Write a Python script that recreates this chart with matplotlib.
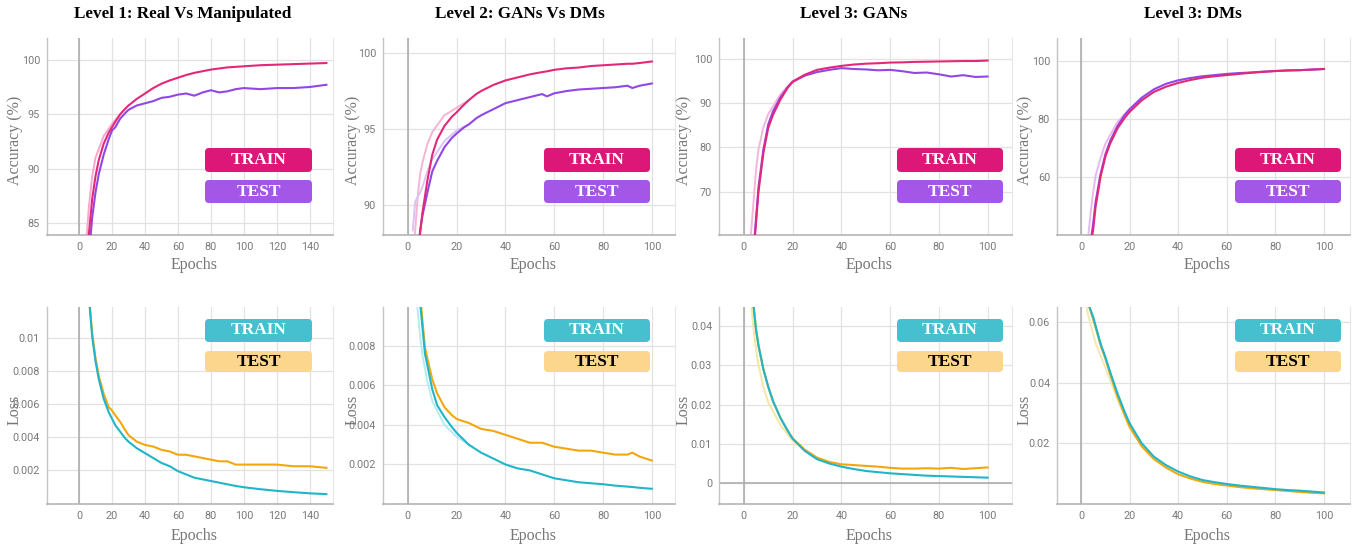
import matplotlib
matplotlib.use("Agg")
import matplotlib.pyplot as plt
from matplotlib.patches import FancyBboxPatch
from matplotlib.transforms import IdentityTransform

W, H = 1354, 548

l1_ep = [4, 6, 8, 10, 12, 15, 18, 20, 22, 25, 28, 30, 35, 40, 45, 50, 55, 60, 65,
         70, 75, 80, 85, 90, 95, 100, 110, 120, 130, 140, 150]
l1_acc_train = [80.5, 84.0, 87.2, 89.3, 90.8, 92.3, 93.3, 93.8, 94.3, 95.0, 95.5, 95.8,
                96.4, 96.9, 97.4, 97.8, 98.1, 98.35, 98.6, 98.8, 98.95, 99.1, 99.2,
                99.3, 99.35, 99.4, 99.5, 99.55, 99.6, 99.65, 99.7]
l1_acc_test = [79.0, 82.0, 85.5, 87.8, 89.5, 91.3, 92.7, 93.5, 93.8, 94.6, 95.1, 95.4,
               95.8, 96.0, 96.2, 96.5, 96.6, 96.8, 96.9, 96.7, 97.0, 97.2, 97.0,
               97.1, 97.3, 97.4, 97.3, 97.4, 97.4, 97.5, 97.7]
l1_loss_train = [0.016, 0.0125, 0.0101, 0.0086, 0.0075, 0.0063, 0.0055, 0.0051, 0.0047,
                 0.0043, 0.0039, 0.0037, 0.0033, 0.0030, 0.0027, 0.0024, 0.0022, 0.0019,
                 0.0017, 0.0015, 0.0014, 0.0013, 0.0012, 0.0011, 0.0010, 0.00092,
                 0.0008, 0.0007, 0.00062, 0.00055, 0.0005]
l1_loss_test = [0.016, 0.0126, 0.0103, 0.0088, 0.0077, 0.0066, 0.0058, 0.0056, 0.0053,
                0.0049, 0.0044, 0.0041, 0.0037, 0.0035, 0.0034, 0.0032, 0.0031, 0.0029,
                0.0029, 0.0028, 0.0027, 0.0026, 0.0025, 0.0025, 0.0023, 0.0023,
                0.0023, 0.0023, 0.0022, 0.0022, 0.0021]

l2_ep = [3, 5, 6, 8, 10, 12, 15, 18, 20, 23, 25, 28, 30, 35, 40, 45, 50, 55, 57, 60,
         65, 70, 75, 80, 85, 90, 92, 95, 100]
l2_acc_train = [85.0, 88.1, 89.5, 91.6, 93.3, 94.3, 95.2, 95.8, 96.1, 96.6, 96.9, 97.3,
                97.5, 97.9, 98.2, 98.4, 98.6, 98.75, 98.8, 98.9, 99.0, 99.05, 99.15,
                99.2, 99.25, 99.3, 99.3, 99.35, 99.45]
l2_acc_test = [84.0, 88.3, 89.3, 90.8, 92.2, 92.9, 93.8, 94.4, 94.7, 95.1, 95.3, 95.7,
               95.9, 96.3, 96.7, 96.9, 97.1, 97.3, 97.15, 97.35, 97.5, 97.6, 97.65,
               97.7, 97.75, 97.85, 97.7, 97.85, 98.0]
l2_loss_ep = [4, 5, 7, 10, 12, 15, 18, 20, 25, 30, 35, 40, 45, 50, 55, 60, 65, 70, 75,
              80, 85, 90, 92, 95, 100]
l2_loss_train = [0.0125, 0.0102, 0.0076, 0.0058, 0.0050, 0.0044, 0.0039, 0.0036, 0.0030,
                 0.0026, 0.0023, 0.0020, 0.0018, 0.0017, 0.0015, 0.0013, 0.0012, 0.0011,
                 0.00105, 0.0010, 0.00093, 0.00088, 0.00086, 0.00082, 0.00077]
l2_loss_test = [0.0130, 0.0106, 0.0079, 0.0063, 0.0056, 0.0049, 0.0045, 0.0043, 0.0041,
                0.0038, 0.0037, 0.0035, 0.0033, 0.0031, 0.0031, 0.0029, 0.0028, 0.0027,
                0.0027, 0.0026, 0.0025, 0.0025, 0.0026, 0.0024, 0.0022]

l3_ep = [3, 4, 5, 6, 8, 10, 12, 15, 18, 20, 25, 30, 35, 40, 45, 50, 55, 60, 65, 70,
         75, 80, 85, 90, 95, 100]
gan_acc_train = [50.0, 56.0, 63.0, 70.0, 78.7, 84.4, 87.4, 90.8, 93.5, 94.8, 96.4, 97.5,
                 98.0, 98.4, 98.7, 98.9, 99.0, 99.15, 99.2, 99.3, 99.35, 99.4, 99.45,
                 99.5, 99.5, 99.6]
gan_acc_test = [50.0, 57.0, 64.0, 71.0, 79.5, 85.2, 88.2, 91.3, 93.6, 94.8, 96.2, 97.0,
                97.5, 97.9, 97.7, 97.6, 97.4, 97.5, 97.2, 96.8, 96.9, 96.5, 96.0,
                96.3, 95.9, 96.0]
gan_loss_train = [0.052, 0.045, 0.039, 0.035, 0.029, 0.0245, 0.0208, 0.0166, 0.0133,
                  0.0113, 0.0082, 0.0061, 0.0050, 0.0042, 0.0036, 0.0031, 0.0028,
                  0.0025, 0.0023, 0.0021, 0.0019, 0.0018, 0.0017, 0.0016, 0.0015, 0.0014]
gan_loss_test = [0.052, 0.045, 0.039, 0.035, 0.029, 0.0245, 0.0208, 0.0166, 0.0133,
                 0.0114, 0.0085, 0.0065, 0.0054, 0.0048, 0.0046, 0.0044, 0.0042,
                 0.0039, 0.0037, 0.0037, 0.0038, 0.0037, 0.0039, 0.0036, 0.0038, 0.0040]

dm_acc_train = [30.0, 36.0, 42.0, 49.8, 60.0, 67.0, 71.6, 76.8, 80.5, 82.5, 86.5, 89.4,
                91.2, 92.5, 93.5, 94.3, 94.8, 95.2, 95.6, 96.0, 96.3, 96.6, 96.8,
                96.9, 97.1, 97.3]
dm_acc_test = [32.0, 38.0, 44.0, 51.5, 61.0, 67.8, 72.5, 77.6, 81.5, 83.4, 87.4, 90.3,
               92.2, 93.4, 94.2, 94.8, 95.2, 95.6, 95.9, 96.1, 96.4, 96.6, 96.8,
               96.9, 97.1, 97.3]
dm_loss_ep = [3, 5, 8, 10, 12, 15, 18, 20, 25, 30, 35, 40, 45, 50, 55, 60, 65, 70, 75,
              80, 85, 90, 95, 100]
dm_loss_train = [0.066, 0.0617, 0.053, 0.0485, 0.0435, 0.0365, 0.0303, 0.0266, 0.0200,
                 0.0156, 0.0128, 0.0107, 0.0091, 0.0079, 0.0072, 0.0066, 0.0061,
                 0.0057, 0.0053, 0.0049, 0.0046, 0.0044, 0.0041, 0.0038]
dm_loss_test = [0.066, 0.0610, 0.0525, 0.0480, 0.0428, 0.0355, 0.0293, 0.0255, 0.0190,
                0.0148, 0.0120, 0.0098, 0.0084, 0.0073, 0.0066, 0.0061, 0.0056,
                0.0052, 0.0049, 0.0046, 0.0043, 0.0040, 0.0037, 0.0035]

# faint un-smoothed traces visible behind the early part of the curves
faint_ep = [2, 3, 4, 5, 6, 8, 10, 15, 20, 25]
l1_faint = [78.0, 80.0, 82.0, 84.5, 86.5, 89.3, 91.0, 93.0, 94.1, 95.0]
l2_faint_train = [86.0, 88.3, 90.5, 92.0, 92.8, 94.0, 94.8, 95.9, 96.4, 96.9]
l2_faint_test = [88.3, 90.2, 90.5, 90.8, 91.2, 92.2, 93.0, 94.2, 94.9, 95.3]
gan_faint = [55.0, 61.0, 68.0, 75.0, 79.5, 84.5, 87.5, 92.0, 95.0, 96.4]
dm_faint = [33.0, 40.0, 48.0, 55.0, 60.5, 66.5, 71.5, 79.0, 83.6, 87.3]
l2_loss_faint = [0.0135, 0.0112, 0.0098, 0.0085, 0.0075, 0.0062, 0.0052, 0.0040, 0.0034, 0.0030]
gan_loss_faint = [0.058, 0.046, 0.039, 0.034, 0.030, 0.0245, 0.0205, 0.0148, 0.0108, 0.0083]
dm_loss_faint = [0.066, 0.062, 0.059, 0.056, 0.053, 0.049, 0.045, 0.0345, 0.0250, 0.0192]

titles = ["Level 1: Real Vs Manipulated", "Level 2: GANs Vs DMs",
          "Level 3: GANs", "Level 3: DMs"]

ACC_TRAIN, ACC_TEST = "#e3287a", "#9147e6"
LOSS_TRAIN, LOSS_TEST = "#20b6c8", "#f2a70c"
BOX = {"acc": [("TRAIN", "#dc1777", "white"), ("TEST", "#a456e6", "white")],
       "loss": [("TRAIN", "#46c0cf", "white"), ("TEST", "#fcd68c", "black")]}

# columns in figure pixels
cols = [(47, 333), (383, 675), (719, 1012), (1057, 1350)]
rows = {"acc": (38, 235), "loss": (307, 504)}
box_x = [(205, 312), (544, 650), (897, 1003), (1235, 1341)]
box_y = {"acc": [(148, 172), (180, 203)], "loss": [(319, 342), (351, 372)]}

panels = [
    # col, row, epochs, train, test, xlim, ylim, yticks, ylabels, faint traces
    (0, "acc", l1_ep, l1_acc_train, l1_acc_test, (-19.4, 154), (83.9, 102),
     [85, 90, 95, 100], ["85", "90", "95", "100"], [(l1_faint, "#f7a8cf")]),
    (1, "acc", l2_ep, l2_acc_train, l2_acc_test, (-10.2, 109.5), (88, 101),
     [90, 95, 100], ["90", "95", "100"],
     [(l2_faint_train, "#f7b3d3"), (l2_faint_test, "#d9c4f5")]),
    (2, "acc", l3_ep, gan_acc_train, gan_acc_test, (-10.2, 110), (60.2, 104.7),
     [70, 80, 90, 100], ["70", "80", "90", "100"], [(gan_faint, "#f3b5dc")]),
    (3, "acc", l3_ep, dm_acc_train, dm_acc_test, (-9.9, 110.7), (40, 108),
     [60, 80, 100], ["60", "80", "100"], [(dm_faint, "#e6b8ee")]),
    (0, "loss", l1_ep, l1_loss_train, l1_loss_test, (-19.4, 154), (-0.0001, 0.0119),
     [0.002, 0.004, 0.006, 0.008, 0.01], ["0.002", "0.004", "0.006", "0.008", "0.01"], []),
    (1, "loss", l2_loss_ep, l2_loss_train, l2_loss_test, (-10.2, 109.5), (0, 0.00997),
     [0.002, 0.004, 0.006, 0.008], ["0.002", "0.004", "0.006", "0.008"],
     [(l2_loss_faint, "#b6ecef")]),
    (2, "loss", l3_ep, gan_loss_train, gan_loss_test, (-10.2, 110), (-0.0053, 0.0448),
     [0, 0.01, 0.02, 0.03, 0.04], ["0", "0.01", "0.02", "0.03", "0.04"],
     [(gan_loss_faint, "#f5e6a8")]),
    (3, "loss", dm_loss_ep, dm_loss_train, dm_loss_test, (-9.9, 110.7), (0, 0.065),
     [0.02, 0.04, 0.06], ["0.02", "0.04", "0.06"], [(dm_loss_faint, "#f3e9b5")]),
]

fig = plt.figure(figsize=(W / 100, H / 100), dpi=100)
px = IdentityTransform()

for col, kind, ep, tr, te, xl, yl, yt, ylab, faint in panels:
    x0, x1 = cols[col]
    y0, y1 = rows[kind]
    ax = fig.add_axes([x0 / W, 1 - y1 / H, (x1 - x0) / W, (y1 - y0) / H])
    c_tr, c_te = (ACC_TRAIN, ACC_TEST) if kind == "acc" else (LOSS_TRAIN, LOSS_TEST)
    for vals, fc in faint:
        ax.plot(faint_ep, vals, color=fc, lw=1.4, zorder=2.5)
    ax.plot(ep, te, color=c_te, lw=1.5, zorder=3)
    ax.plot(ep, tr, color=c_tr, lw=1.5, zorder=4)
    ax.set_xlim(*xl)
    ax.set_ylim(*yl)
    xmax = 140 if col == 0 else 100
    ax.set_xticks(list(range(0, xmax + 1, 20)))
    ax.set_yticks(yt)
    ax.set_yticklabels(ylab)
    ax.grid(True, color="#e2e2e2", lw=0.9)
    ax.set_axisbelow(True)
    ax.axvline(0, color="#a8a8a8", lw=1.1, zorder=2)
    if kind == "loss" and col == 2:
        ax.axhline(0, color="#a8a8a8", lw=1.1, zorder=2)
    ax.spines["top"].set_visible(False)
    ax.spines["right"].set_color("#e6e6e6")
    ax.spines["left"].set_color("#c4c4c4")
    ax.spines["bottom"].set_color("#b4b4b4")
    ax.spines["left"].set_linewidth(1.0)
    ax.spines["bottom"].set_linewidth(1.2)
    ax.tick_params(length=0, labelsize=7.8, labelcolor="#7a7a7a", pad=5)
    for lab in ax.get_xticklabels() + ax.get_yticklabels():
        lab.set_family("Roboto")

    # legend boxes
    bx0, bx1 = box_x[col]
    for (txt, fc, tc), (by0, by1) in zip(BOX[kind], box_y[kind]):
        patch = FancyBboxPatch((bx0, H - by1), bx1 - bx0, by1 - by0,
                               boxstyle="round,pad=0,rounding_size=4",
                               transform=px, facecolor=fc, edgecolor="none")
        fig.add_artist(patch)
        fig.text((bx0 + bx1) / 2, H - (by0 + by1) / 2, txt, transform=px,
                 ha="center", va="center", color=tc, fontsize=12.5,
                 fontweight="bold", family="Liberation Serif")

    # axis labels
    cx = (x0 + x1) / 2 + 4
    fig.text(cx, H - (265 if kind == "acc" else 536), "Epochs", transform=px,
             ha="center", va="center", fontsize=11.5, color="#777777",
             family="Liberation Serif")
    lx = [15, 353, 684, 1025][col]
    fig.text(lx, H - (140 if kind == "acc" else 410),
             "Accuracy (%)" if kind == "acc" else "Loss", transform=px,
             ha="center", va="center", rotation=90, fontsize=11.5, color="#777777",
             family="Liberation Serif")

title_x = [183, 520, 854, 1193]
for t, tx in zip(titles, title_x):
    fig.text(tx, H - 14, t, transform=px, ha="center", va="center",
             fontsize=12.3, fontweight="bold", family="Liberation Serif")

fig.savefig("out.png", dpi=100)
